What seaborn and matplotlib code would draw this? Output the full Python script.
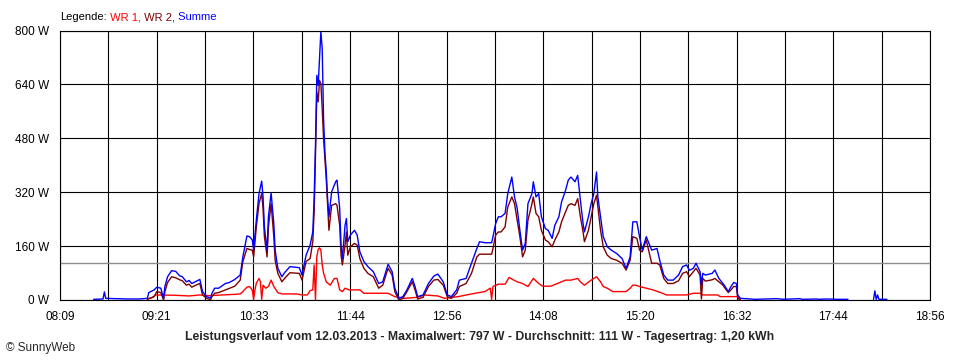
import numpy as np
import pandas as pd
import matplotlib.pyplot as plt
import seaborn as sns

sns.set_theme(style="white")
plt.rcParams["font.family"] = ["Liberation Sans", "DejaVu Sans"]

# Axis labels
x_labels = ["08:09", "09:21", "10:33", "11:44", "12:56", "14:08", "15:20", "16:32", "17:44", "18:56"]
y_ticks = [0, 160, 320, 480, 640, 800]
avg_w = 111

# Summe (blue)
summe_times = ["08:34", "08:41", "08:42", "08:43", "08:50", "09:00", "09:08", "09:14", "09:15", "09:19",
               "09:21", "09:24", "09:26", "09:27", "09:29", "09:32", "09:35", "09:38", "09:40", "09:43",
               "09:45", "09:47", "09:50", "09:53", "09:55", "09:58", "10:01", "10:02", "10:04", "10:07",
               "10:12", "10:15", "10:19", "10:23", "10:25", "10:28", "10:30", "10:32", "10:33", "10:35",
               "10:37", "10:39", "10:40", "10:41", "10:43", "10:44", "10:46", "10:48", "10:49", "10:51",
               "10:54", "10:56", "11:00", "11:07", "11:09", "11:12", "11:15", "11:17", "11:18", "11:19",
               "11:20", "11:21", "11:22", "11:23", "11:24", "11:25", "11:26", "11:27", "11:28", "11:29",
               "11:31", "11:34", "11:35", "11:37", "11:38", "11:39", "11:41", "11:42", "11:43", "11:45",
               "11:48", "11:50", "11:52", "11:55", "11:58", "12:02", "12:06", "12:09", "12:13", "12:16",
               "12:18", "12:21", "12:24", "12:27", "12:31", "12:33", "12:35", "12:39", "12:43", "12:47",
               "12:50", "12:54", "12:57", "13:00", "13:04", "13:06", "13:11", "13:15", "13:19", "13:21",
               "13:25", "13:30", "13:31", "13:33", "13:35", "13:37", "13:40", "13:42", "13:45", "13:47",
               "13:49", "13:51", "13:53", "13:55", "13:57", "14:00", "14:01", "14:03", "14:05", "14:07",
               "14:10", "14:12", "14:15", "14:17", "14:20", "14:22", "14:25", "14:27", "14:29", "14:32",
               "14:34", "14:36", "14:38", "14:39", "14:42", "14:44", "14:46", "14:48", "14:49", "14:51",
               "14:53", "14:56", "14:59", "15:03", "15:07", "15:10", "15:13", "15:15", "15:18", "15:20",
               "15:22", "15:25", "15:29", "15:33", "15:35", "15:38", "15:41", "15:45", "15:49", "15:52",
               "15:55", "15:57", "16:00", "16:02", "16:05", "16:06", "16:07", "16:09", "16:14", "16:16",
               "16:19", "16:22", "16:23", "16:26", "16:28", "16:30", "16:32", "16:33", "16:35", "16:46",
               "17:02", "17:07", "17:19", "17:21", "17:32", "17:33", "17:39", "17:47", "17:55"]
summe_w = [2, 3, 24, 5, 4, 3, 3, 5, 22, 30,
           38, 35, 5, 40, 69, 87, 85, 72, 69, 54,
           58, 49, 55, 61, 25, 10, 6, 20, 35, 35,
           49, 52, 61, 74, 128, 190, 188, 178, 148, 237,
           316, 353, 306, 217, 148, 247, 318, 227, 148, 94,
           69, 81, 99, 96, 74, 133, 163, 202, 301, 460,
           667, 637, 716, 797, 746, 538, 439, 380, 301, 247,
           321, 351, 356, 272, 163, 123, 222, 242, 173, 193,
           207, 193, 143, 114, 99, 84, 49, 54, 106, 84,
           35, 5, 10, 30, 64, 40, 10, 15, 49, 71,
           77, 54, 15, 10, 30, 59, 64, 109, 153, 173,
           170, 170, 188, 227, 247, 247, 257, 316, 365, 306,
           272, 207, 148, 168, 286, 316, 351, 306, 316, 247,
           212, 207, 183, 222, 247, 291, 326, 356, 365, 351,
           370, 296, 227, 202, 247, 286, 316, 380, 306, 247,
           188, 158, 148, 138, 123, 94, 128, 232, 232, 188,
           148, 188, 148, 153, 118, 74, 59, 59, 74, 99,
           104, 88, 94, 109, 84, 44, 79, 74, 79, 89,
           64, 49, 44, 25, 40, 52, 49, 15, 5, 2,
           4, 2, 4, 2, 3, 2, 3, 2, 2]

# Summe, late evening blip
summe_late_times = ["18:14", "18:15", "18:16", "18:17", "18:18", "18:24"]
summe_late_w = [2, 27, 2, 15, 2, 2]

# WR 2 (dark red)
wr2_times = ["09:14", "09:19", "09:21", "09:24", "09:26", "09:27", "09:29", "09:32", "09:35", "09:38",
             "09:40", "09:43", "09:45", "09:47", "09:50", "09:53", "09:55", "09:58", "10:01", "10:02",
             "10:04", "10:07", "10:12", "10:15", "10:19", "10:23", "10:25", "10:28", "10:30", "10:32",
             "10:33", "10:35", "10:37", "10:39", "10:40", "10:41", "10:43", "10:44", "10:46", "10:48",
             "10:49", "10:51", "10:54", "10:56", "11:00", "11:07", "11:09", "11:12", "11:15", "11:17",
             "11:18", "11:19", "11:20", "11:21", "11:22", "11:23", "11:24", "11:25", "11:26", "11:27",
             "11:28", "11:29", "11:31", "11:34", "11:35", "11:37", "11:38", "11:39", "11:41", "11:42",
             "11:43", "11:45", "11:48", "11:50", "11:52", "11:55", "11:58", "12:02", "12:06", "12:09",
             "12:13", "12:16", "12:18", "12:21", "12:24", "12:27", "12:31", "12:33", "12:35", "12:39",
             "12:43", "12:47", "12:50", "12:54", "12:57", "13:00", "13:04", "13:06", "13:11", "13:15",
             "13:19", "13:21", "13:25", "13:30", "13:31", "13:33", "13:35", "13:37", "13:40", "13:42",
             "13:45", "13:47", "13:49", "13:51", "13:53", "13:55", "13:57", "14:00", "14:01", "14:03",
             "14:05", "14:07", "14:10", "14:12", "14:15", "14:17", "14:20", "14:22", "14:25", "14:27",
             "14:29", "14:32", "14:34", "14:36", "14:38", "14:39", "14:42", "14:44", "14:46", "14:48",
             "14:49", "14:51", "14:53", "14:56", "14:59", "15:03", "15:07", "15:10", "15:13", "15:15",
             "15:18", "15:20", "15:22", "15:25", "15:29", "15:33", "15:35", "15:38", "15:41", "15:45",
             "15:49", "15:52", "15:55", "15:57", "16:00", "16:02", "16:05", "16:06", "16:07", "16:09",
             "16:14", "16:16", "16:19", "16:22", "16:23", "16:26", "16:28", "16:30", "16:32", "16:33",
             "16:35"]
wr2_w = [2, 10, 25, 22, 0, 25, 52, 69, 66, 60,
         57, 44, 47, 38, 44, 49, 15, 5, 1, 10,
         20, 22, 30, 35, 41, 59, 114, 153, 150, 148,
         128, 217, 286, 316, 272, 188, 128, 217, 286, 188,
         118, 79, 54, 64, 81, 79, 59, 114, 123, 173,
         262, 430, 617, 588, 652, 642, 568, 479, 420, 360,
         281, 207, 281, 286, 281, 222, 133, 104, 163, 202,
         133, 158, 168, 163, 123, 94, 79, 69, 35, 44,
         94, 74, 25, 0, 5, 25, 54, 30, 3, 8,
         40, 59, 61, 44, 10, 5, 20, 40, 49, 79,
         128, 136, 136, 136, 153, 193, 202, 202, 217, 276,
         306, 286, 237, 188, 128, 148, 237, 286, 306, 257,
         247, 207, 178, 173, 158, 178, 202, 232, 262, 281,
         286, 281, 301, 247, 202, 173, 207, 247, 286, 311,
         276, 207, 158, 133, 123, 118, 109, 89, 118, 188,
         183, 148, 143, 178, 109, 109, 104, 64, 49, 49,
         57, 79, 84, 69, 84, 94, 74, 3, 64, 56,
         60, 64, 54, 44, 38, 22, 30, 40, 40, 5,
         0]

# WR 1 (red)
wr1_times = ["09:14", "09:18", "09:20", "09:35", "09:45", "09:53", "10:00", "10:10", "10:20", "10:23",
             "10:25", "10:28", "10:30", "10:32", "10:33", "10:34", "10:35", "10:37", "10:38", "10:39",
             "10:40", "10:42", "10:44", "10:46", "10:48", "10:51", "10:54", "11:05", "11:09", "11:13",
             "11:15", "11:17", "11:18", "11:19", "11:20", "11:21", "11:22", "11:23", "11:24", "11:25",
             "11:27", "11:30", "11:33", "11:35", "11:37", "11:39", "11:41", "11:44", "11:52", "11:55",
             "12:05", "12:13", "12:18", "12:25", "12:35", "12:40", "12:50", "12:55", "13:05", "13:15",
             "13:25", "13:29", "13:30", "13:31", "13:35", "13:40", "13:43", "13:46", "13:49", "13:53",
             "13:57", "14:01", "14:05", "14:08", "14:14", "14:19", "14:25", "14:29", "14:34", "14:36",
             "14:39", "14:44", "14:48", "14:51", "14:53", "14:56", "15:00", "15:10", "15:13", "15:15",
             "15:17", "15:20", "15:25", "15:30", "15:37", "15:40", "15:55", "16:00", "16:05", "16:07",
             "16:18", "16:20", "16:33", "16:35"]
wr1_w = [3, 8, 15, 14, 12, 15, 13, 15, 17, 18,
         25, 38, 40, 30, 2, 30, 50, 64, 55, 2,
         44, 35, 40, 59, 40, 22, 18, 18, 15, 15,
         28, 30, 104, 0, 130, 150, 155, 148, 104, 80,
         54, 44, 64, 64, 30, 25, 35, 30, 30, 20,
         20, 20, 10, 5, 8, 15, 12, 5, 10, 18,
         25, 35, 2, 40, 47, 47, 67, 60, 54, 49,
         40, 64, 49, 41, 41, 49, 59, 59, 64, 54,
         44, 59, 69, 54, 40, 35, 25, 25, 35, 44,
         44, 40, 35, 30, 20, 15, 15, 20, 20, 15,
         15, 10, 10, 0]


def to_min(s):
    h, m = s.split(":")
    return int(h) * 60 + int(m)


df_sum = pd.DataFrame({
    "t": [to_min(s) for s in summe_times + summe_late_times],
    "w": summe_w + summe_late_w,
    "seg": [0] * len(summe_times) + [1] * len(summe_late_times),
})
df_wr2 = pd.DataFrame({"t": [to_min(s) for s in wr2_times], "w": wr2_w})
df_wr1 = pd.DataFrame({"t": [to_min(s) for s in wr1_times], "w": wr1_w})

t0, t1 = to_min(x_labels[0]), to_min(x_labels[-1])

fig = plt.figure(figsize=(9.6, 3.6), dpi=100)
ax = fig.add_axes([60 / 960, 60 / 360, 870 / 960, 269.5 / 360])

# grid + average line
major = np.linspace(t0, t1, len(x_labels))
minor = (major[:-1] + major[1:]) / 2
ax.set_xticks(major)
ax.set_xticks(minor, minor=True)
ax.set_xticklabels(x_labels)
ax.set_yticks(y_ticks)
ax.set_yticklabels([f"{v} W" for v in y_ticks])
ax.grid(True, which="both", axis="x", color="black", lw=0.8)
ax.grid(True, which="major", axis="y", color="black", lw=0.8)
ax.axhline(avg_w, color="#8c8c8c", lw=1.0, zorder=1.5)

sns.lineplot(data=df_wr1, x="t", y="w", color="#ff0000", lw=1.0, ax=ax, estimator=None, sort=False)
sns.lineplot(data=df_wr2, x="t", y="w", color="#800000", lw=1.0, ax=ax, estimator=None, sort=False)
sns.lineplot(data=df_sum, x="t", y="w", units="seg", color="#0000ff", lw=1.0, ax=ax,
             estimator=None, sort=False)

ax.set_xlim(t0, t1)
ax.set_ylim(0, 800)
ax.set_xlabel("")
ax.set_ylabel("")
ax.tick_params(axis="both", which="both", direction="out", length=3.6, width=0.8,
               color="black", labelsize=8.5, labelcolor="black", pad=4)
ax.tick_params(axis="x", which="minor", length=3.6)
for s in ax.spines.values():
    s.set_color("black")
    s.set_linewidth(0.8)

# legend line at top
t = fig.text(60 / 960, 1 - 17 / 360, "Legende:", fontsize=8, color="black", va="center")
for label, col in [(" WR 1,", "#ff0000"), (" WR 2,", "#800000"), (" Summe", "#0000ff")]:
    t = ax.annotate(label, xy=(1, 0), xycoords=t, fontsize=8, color=col, va="bottom")

fig.text(0.5, 1 - 337 / 360,
         "Leistungsverlauf vom 12.03.2013 - Maximalwert: 797 W - Durchschnitt: 111 W - Tagesertrag: 1,20 kWh",
         ha="center", va="center", fontsize=8.8, fontweight="bold")
fig.text(6 / 960, 1 - 348 / 360, "© SunnyWeb", ha="left", va="center", fontsize=8.5)

fig.savefig("out.png", dpi=100)
